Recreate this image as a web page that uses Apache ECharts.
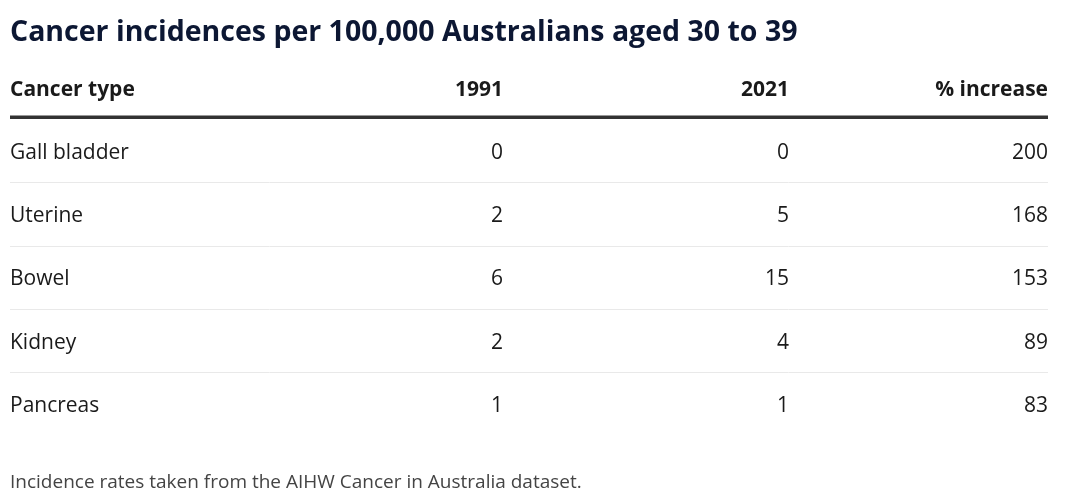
<!DOCTYPE html>
<html><head><meta charset="utf-8">
<script src="https://cdn.jsdelivr.net/npm/echarts@6/dist/echarts.min.js"></script>
<style>html,body{margin:0;padding:0;background:#fff}#c{width:1080px;height:501px}</style>
</head><body><div id="c"></div>
<script>
// ---- data ----
const titleText = 'Cancer incidences per 100,000 Australians aged 30 to 39';
const headers = ['Cancer type', '1991', '2021', '% increase'];
const cancerTypes = ['Gall bladder', 'Uterine', 'Bowel', 'Kidney', 'Pancreas'];
const rate1991 = [0, 2, 6, 2, 1];
const rate2021 = [0, 5, 15, 4, 1];
const pctIncrease = [200, 168, 153, 89, 83];
const footnote = 'Incidence rates taken from the AIHW Cancer in Australia dataset.';

// ---- layout ----
const FONT = '"Open Sans", Lato, sans-serif';
const GL = 10, GR = 32, GT = 119, GH = 316.5, W = 1080;
const GW = W - GL - GR;
const TEXT_DY = 2;
const colAnchor = [0, 0.475, 0.7505, 1];
const colAlign = ['left', 'right', 'right', 'right'];
const columns = [cancerTypes, rate1991, rate2021, pctIncrease];

const chart = echarts.init(document.getElementById('c'), null, {renderer: 'canvas'});

const headerEls = headers.map((h, k) => ({
  type: 'text', x: GL + colAnchor[k] * GW, y: 90,
  style: {text: h, font: 'bold 21px ' + FONT, fill: '#1a1a1a', align: colAlign[k], verticalAlign: 'middle'}
}));

chart.setOption({
  animation: false,
  grid: {left: GL, right: GR, top: GT, height: GH, containLabel: false},
  xAxis: {type: 'value', min: 0, max: 1, show: false},
  yAxis: {type: 'category', data: cancerTypes, inverse: true, show: false, boundaryGap: true},
  graphic: [
    {type: 'text', x: GL, y: 32.5, style: {text: titleText, font: 'bold 28.5px ' + FONT, fill: '#0c1733', align: 'left', verticalAlign: 'middle'}},
    ...headerEls,
    {type: 'rect', shape: {x: GL, y: 115.5, width: GW, height: 3.5}, style: {fill: '#333'}},
    {type: 'text', x: GL, y: 483, style: {text: footnote, font: '19px ' + FONT, fill: '#444', align: 'left', verticalAlign: 'middle'}}
  ],
  series: [{
    type: 'custom',
    coordinateSystem: 'cartesian2d',
    encode: {x: 0, y: 1},
    data: cancerTypes.map((c, i) => [0, i]),
    renderItem: function (params, api) {
      const row = api.value(1);
      const bandH = api.size([0, 1])[1];
      const children = columns.map((col, k) => {
        const p = api.coord([colAnchor[k], row]);
        return {type: 'text', style: {text: String(col[row]), x: p[0], y: p[1] + TEXT_DY, font: '21px ' + FONT, fill: '#1a1a1a', align: colAlign[k], verticalAlign: 'middle'}};
      });
      if (row < cancerTypes.length - 1) {
        const a = api.coord([0, row]);
        const b = api.coord([1, row]);
        const yy = Math.round(a[1] + bandH / 2) + 0.5;
        children.push({type: 'line', shape: {x1: a[0], y1: yy, x2: b[0], y2: yy}, style: {stroke: '#e9e9e9', lineWidth: 1}});
      }
      return {type: 'group', children: children};
    }
  }]
});
</script></body></html>
